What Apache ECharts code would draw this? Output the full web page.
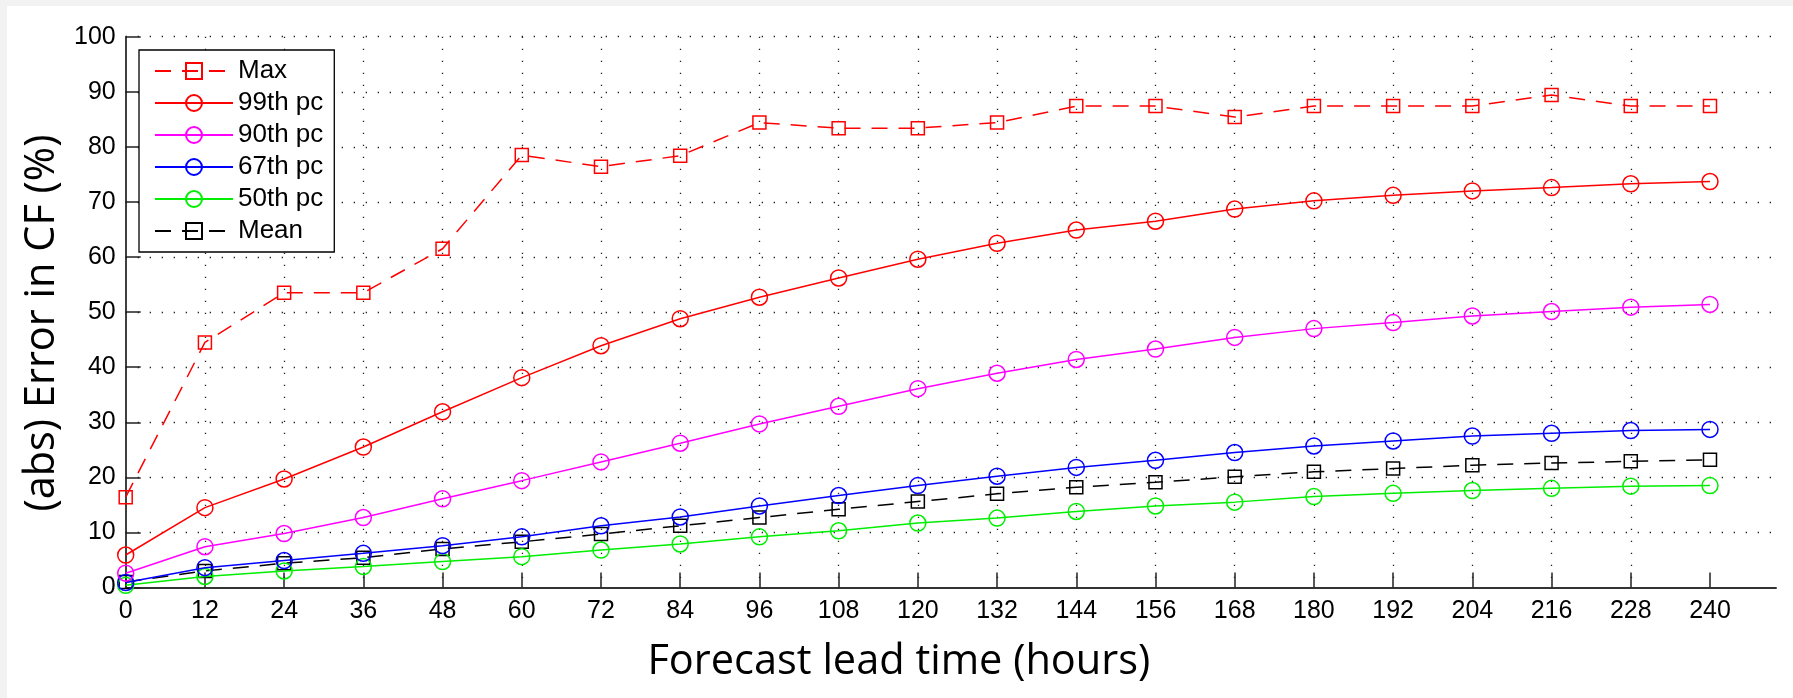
<!DOCTYPE html>
<html>
<head>
<meta charset="utf-8">
<script src="https://cdn.jsdelivr.net/npm/echarts@6/dist/echarts.min.js"></script>
<style>
html,body{margin:0;padding:0;background:#f2f2f2;width:1793px;height:698px;overflow:hidden;}
#chart{position:absolute;left:7px;top:6px;width:1786px;height:692px;background:#fff;}
</style>
</head>
<body>
<div id="chart"></div>
<script>
// ---- data ----
const hours = [0,12,24,36,48,60,72,84,96,108,120,132,144,156,168,180,192,204,216,228,240];
const xTicks = [0,12,24,36,48,60,72,84,96,108,120,132,144,156,168,180,192,204,216,228,240];
const yTicks = [0,10,20,30,40,50,60,70,80,90,100];
const seriesNames = ['Max','99th pc','90th pc','67th pc','50th pc','Mean'];
const maxVals  = [16.4,44.5,53.5,53.5,61.5,78.5,76.4,78.4,84.4,83.4,83.4,84.4,87.4,87.4,85.4,87.4,87.4,87.4,89.4,87.4,87.4];
const p99Vals  = [5.9,14.5,19.7,25.5,31.9,38.1,43.9,48.8,52.7,56.2,59.6,62.5,64.9,66.5,68.7,70.2,71.2,72.0,72.6,73.3,73.7];
const p90Vals  = [2.6,7.4,9.8,12.7,16.1,19.4,22.8,26.2,29.7,32.9,36.1,38.9,41.4,43.3,45.4,47.0,48.1,49.3,50.1,50.9,51.4];
const p67Vals  = [0.9,3.6,4.9,6.2,7.6,9.2,11.2,12.8,14.8,16.7,18.5,20.2,21.8,23.1,24.5,25.7,26.6,27.5,28.0,28.5,28.7];
const p50Vals  = [0.4,2.0,3.0,3.8,4.7,5.6,6.8,7.9,9.2,10.3,11.7,12.6,13.8,14.8,15.5,16.5,17.1,17.6,18.0,18.4,18.5];
const meanVals = [1.0,3.0,4.4,5.4,7.0,8.3,9.7,11.2,12.7,14.2,15.6,17.0,18.2,19.1,20.1,21.0,21.6,22.2,22.6,22.9,23.2];

const xTitle = 'Forecast lead time (hours)';
const yTitle = '(abs) Error in CF (%)';

// ---- styles ----
const colors = ['#ff0000','#ff0000','#ff00ff','#0000ff','#00ee00','#000000'];
const dashed = [16, 11];
const valuesList = [maxVals,p99Vals,p90Vals,p67Vals,p50Vals,meanVals];
const isSquare = [true,false,false,false,false,true];

function pair(vals){ return hours.map((h,i)=>[h, vals[i]]); }

const series = valuesList.map((vals, i) => ({
  name: seriesNames[i],
  type: 'line',
  data: pair(vals),
  symbol: isSquare[i] ? 'rect' : 'circle',
  symbolSize: isSquare[i] ? 13 : 16,
  showAllSymbol: true,
  animation: false,
  z: 10 - i,
  lineStyle: {color: colors[i], width: 1.5, type: isSquare[i] ? dashed : 'solid'},
  itemStyle: {color: 'rgba(0,0,0,0)', borderColor: colors[i], borderWidth: 1.5},
  emphasis: {disabled: true}
}));

const gridDots = {show: true, lineStyle: {color: '#222', width: 1.3, type: [1.3, 10.7]}};
const tickFont = {fontFamily: 'Liberation Sans', fontSize: 25, color: '#000'};

const chart = echarts.init(document.getElementById('chart'), null, {renderer: 'canvas'});
chart.setOption({
  animation: false,
  backgroundColor: '#fff',
  grid: {left: 118.7, top: 30.7, right: 17, bottom: 110.5, containLabel: false},
  legend: {
    orient: 'vertical', left: 132, top: 44,
    data: seriesNames,
    backgroundColor: '#fff', borderColor: '#000', borderWidth: 1.3, borderRadius: 0,
    padding: [8, 11, 8, 15],
    itemWidth: 78, itemHeight: 20, itemGap: 6,
    textStyle: {fontFamily: 'Liberation Sans', fontSize: 26, color: '#000'},
    selectedMode: false
  },
  xAxis: {
    type: 'value', min: 0, max: 250, interval: 12,
    name: xTitle, nameLocation: 'middle', nameGap: 54,
    nameTextStyle: {fontFamily: 'Open Sans', fontSize: 41.5, color: '#000', padding: [0, 104, 0, 0]},
    axisLine: {show: true, onZero: false, lineStyle: {color: '#333', width: 2}},
    axisTick: {show: true, inside: true, length: 15, customValues: xTicks, lineStyle: {color: '#222', width: 1.5}},
    axisLabel: {customValues: xTicks, margin: 11, ...tickFont},
    splitLine: {...gridDots, showMinLine: false, showMaxLine: false}
  },
  yAxis: {
    type: 'value', min: 0, max: 100, interval: 10,
    name: yTitle, nameLocation: 'middle', nameGap: 52,
    nameTextStyle: {fontFamily: 'Open Sans', fontSize: 41.5, color: '#000', padding: [0, 22, 0, 0]},
    axisLine: {show: true, onZero: false, lineStyle: {color: '#000', width: 1.5}},
    axisTick: {show: true, inside: true, length: 15, customValues: yTicks, lineStyle: {color: '#222', width: 1.5}},
    axisLabel: {customValues: yTicks, margin: 10, ...tickFont},
    splitLine: {...gridDots, showMinLine: false}
  },
  series: series
});
</script>
</body>
</html>
